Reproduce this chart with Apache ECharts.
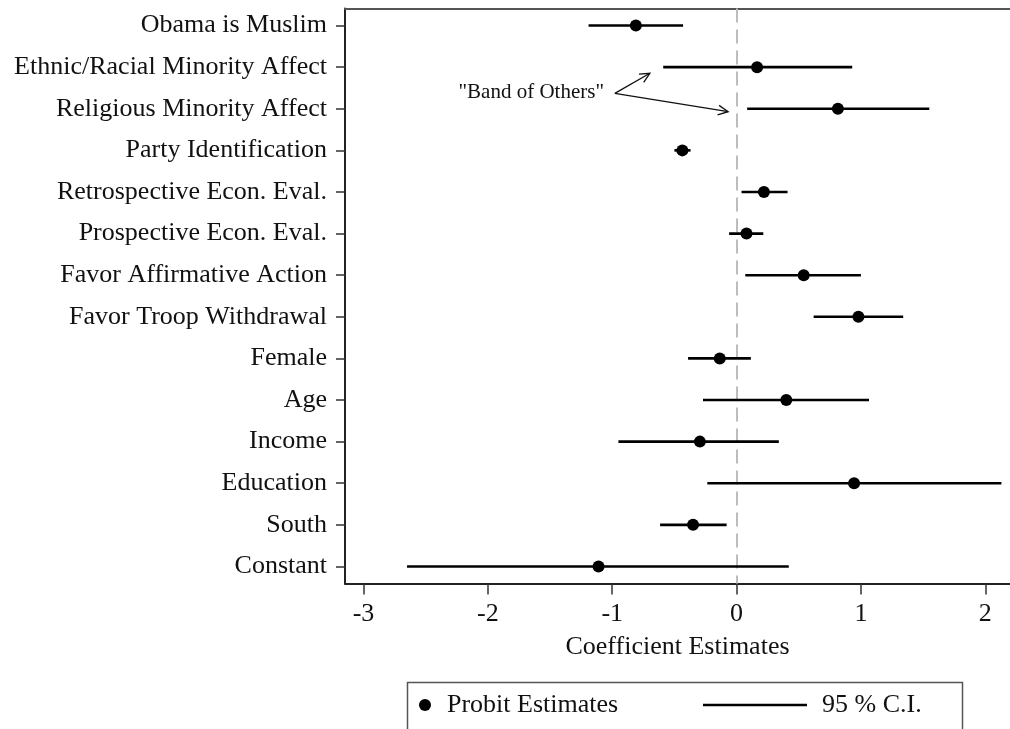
<!DOCTYPE html>
<html>
<head>
<meta charset="utf-8">
<title>Probit Estimates</title>
<script src="https://cdn.jsdelivr.net/npm/echarts@6/dist/echarts.min.js"></script>
<style>
  html, body { margin: 0; padding: 0; background: #fff; }
  #chart { width: 1010px; height: 729px; }
</style>
</head>
<body>
<div id="chart"></div>
<script>
// Coefficient plot: probit estimates with 95% confidence intervals
const categories = [
  'Obama is Muslim',
  'Ethnic/Racial Minority Affect',
  'Religious Minority Affect',
  'Party Identification',
  'Retrospective Econ. Eval.',
  'Prospective Econ. Eval.',
  'Favor Affirmative Action',
  'Favor Troop Withdrawal',
  'Female',
  'Age',
  'Income',
  'Education',
  'South',
  'Constant'
];
const estimates = [-0.81, 0.165, 0.815, -0.436, 0.22, 0.08, 0.54, 0.98, -0.135, 0.40, -0.295, 0.945, -0.35, -1.11];
const ciLower   = [-1.19, -0.59, 0.085, -0.50, 0.04, -0.06, 0.07, 0.62, -0.39, -0.27, -0.95, -0.235, -0.615, -2.65];
const ciUpper   = [-0.43, 0.93, 1.55, -0.37, 0.41, 0.215, 1.00, 1.34, 0.115, 1.065, 0.34, 2.13, -0.08, 0.42];
const xTicks = [-3, -2, -1, 0, 1, 2];

// "Band of Others" note: label anchor and the two arrow targets (data coordinates)
const noteText = '"Band of Others"';
const noteLabelAt = [-1.651, 1.62];
const noteArrowFrom = [-0.979, 1.63];
const noteArrowTips = [[-0.697, 1.147], [-0.068, 2.07]];

const FONT = "'Liberation Serif', 'Times New Roman', serif";
const rowIdx = categories.map((_, i) => i);
const X_MIN = -3.149, X_MAX = 2.199;

const chart = echarts.init(document.getElementById('chart'), null, { renderer: 'canvas' });

function arrowShapes(p0, p1) {
  const ang = Math.atan2(p1[1] - p0[1], p1[0] - p0[0]);
  const len = 11, spread = 0.45;
  const a1 = ang + Math.PI - spread, a2 = ang + Math.PI + spread;
  return [
    { type: 'line', shape: { x1: p0[0], y1: p0[1], x2: p1[0], y2: p1[1] },
      style: { stroke: '#111', lineWidth: 1.3 } },
    { type: 'polyline',
      shape: { points: [
        [p1[0] + len * Math.cos(a1), p1[1] + len * Math.sin(a1)],
        p1,
        [p1[0] + len * Math.cos(a2), p1[1] + len * Math.sin(a2)]
      ] },
      style: { stroke: '#111', lineWidth: 1.3, fill: null } }
  ];
}

const option = {
  backgroundColor: '#fff',
  animation: false,
  textStyle: { fontFamily: FONT },
  grid: {
    left: 345, top: 8.5, right: 0, height: 575,
    containLabel: false
  },
  xAxis: [
    {
      type: 'value',
      min: X_MIN, max: X_MAX,
      name: 'Coefficient Estimates',
      nameLocation: 'middle',
      nameGap: 51,
      nameTextStyle: { fontFamily: FONT, fontSize: 26, color: '#111' },
      axisLine: { show: true, onZero: false, lineStyle: { color: '#222', width: 2 } },
      axisTick: { show: true, customValues: xTicks, length: 11, lineStyle: { color: '#333', width: 1.5 } },
      axisLabel: { customValues: xTicks, margin: 18, fontFamily: FONT, fontSize: 26, color: '#111',
        formatter: v => String(v) },
      splitLine: { show: false }
    },
    {
      // top frame line only
      type: 'value',
      position: 'top',
      min: X_MIN, max: X_MAX,
      axisLine: { show: true, onZero: false, lineStyle: { color: '#555', width: 1.8 } },
      axisTick: { show: false },
      axisLabel: { show: false },
      splitLine: { show: false }
    }
  ],
  yAxis: {
    type: 'value',
    inverse: true,
    min: -0.41, max: 13.41,
    axisLine: { show: true, onZero: false, lineStyle: { color: '#222', width: 2 } },
    axisTick: { show: true, customValues: rowIdx, length: 9, lineStyle: { color: '#333', width: 1.5 } },
    axisLabel: { customValues: rowIdx, margin: 18, fontFamily: FONT, fontSize: 26, color: '#111',
      padding: [4, 0, 0, 0],
      formatter: v => categories[v] },
    splitLine: { show: false }
  },
  legend: [
    {
      data: [{ name: 'Probit Estimates', icon: 'circle', itemStyle: { color: '#000' } }],
      left: 419, top: 692, padding: 0,
      itemWidth: 34, itemHeight: 12,
      selectedMode: false,
      textStyle: { fontFamily: FONT, fontSize: 26, color: '#111' }
    },
    {
      data: [{ name: '95 % C.I.', icon: 'rect', itemStyle: { color: '#000' } }],
      left: 703, top: 692, padding: 0,
      itemWidth: 104, itemHeight: 2.5,
      selectedMode: false,
      textStyle: { fontFamily: FONT, fontSize: 26, color: '#111', padding: [0, 0, 0, 10] }
    }
  ],
  graphic: [
    { type: 'rect', left: 405, top: 680, silent: true,
      shape: { width: 555, height: 60 },
      style: { fill: null, stroke: '#555', lineWidth: 1.5 } }
  ],
  series: [
    {
      name: '95 % C.I.',
      type: 'custom',
      itemStyle: { color: '#000' },
      data: rowIdx.map(i => [ciLower[i], ciUpper[i], i]),
      encode: { x: [0, 1], y: 2 },
      renderItem: (params, api) => {
        const p1 = api.coord([api.value(0), api.value(2)]);
        const p2 = api.coord([api.value(1), api.value(2)]);
        return { type: 'line', shape: { x1: p1[0], y1: p1[1], x2: p2[0], y2: p2[1] },
          style: { stroke: '#000', lineWidth: 2.6 } };
      },
      z: 3,
      markLine: {
        silent: true,
        symbol: 'none',
        label: { show: false },
        lineStyle: { color: '#bdbdbd', width: 2, type: [14, 7] },
        data: [{ xAxis: 0 }],
        z: 1
      }
    },
    {
      name: 'Probit Estimates',
      type: 'scatter',
      symbol: 'circle',
      symbolSize: 12,
      itemStyle: { color: '#000', opacity: 1 },
      data: rowIdx.map(i => [estimates[i], i]),
      z: 4
    },
    {
      name: 'note',
      type: 'custom',
      silent: true,
      data: [[noteLabelAt[0], noteLabelAt[1]]],
      renderItem: (params, api) => {
        const t = api.coord(noteLabelAt);
        const from = api.coord(noteArrowFrom);
        const children = [
          { type: 'text', x: t[0], y: t[1],
            style: { text: noteText, fontFamily: FONT, fontSize: 21, fill: '#111',
              align: 'center', verticalAlign: 'middle' } }
        ];
        noteArrowTips.forEach(tip => {
          children.push(...arrowShapes(from, api.coord(tip)));
        });
        return { type: 'group', children };
      },
      z: 5
    }
  ]
};

chart.setOption(option);
</script>
</body>
</html>
